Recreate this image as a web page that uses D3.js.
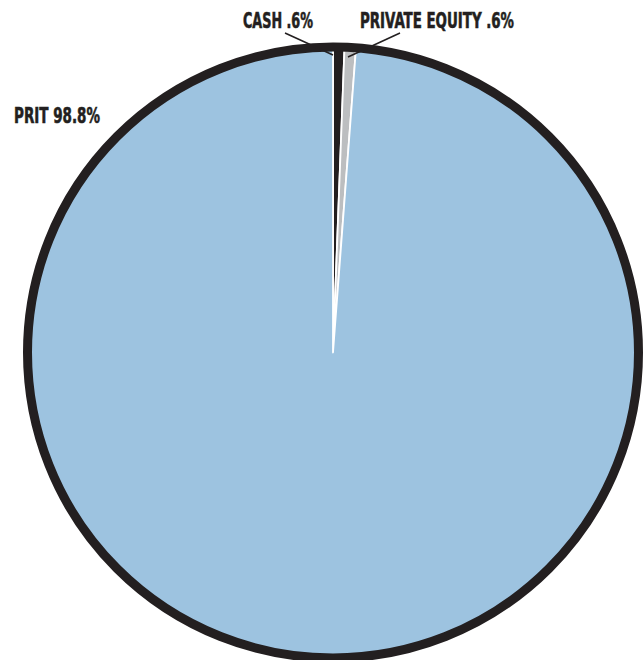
<!DOCTYPE html>
<html><head><meta charset="utf-8">
<script src="https://cdn.jsdelivr.net/npm/d3@7"></script>
<style>body{margin:0;background:#fff}svg{display:block}text{font-family:"Liberation Sans Narrow","DejaVu Sans Condensed",sans-serif;font-weight:bold;fill:#231f20;stroke:#231f20;stroke-width:0.6px}</style>
</head><body><svg id="c" width="643" height="660"></svg>
<script>
const categories = ["CASH", "PRIVATE EQUITY", "PRIT"];
const values = [0.6, 0.6, 98.8];
const labels = ["CASH .6%", "PRIVATE EQUITY .6%", "PRIT 98.8%"];
const colors = ["#231f20", "#bcbec0", "#9dc3e0"];

const svg = d3.select("#c");
const cx = 333, cy = 352.5, r = 305.5;
const g = svg.append("g").attr("transform", `translate(${cx},${cy})`);
const pie = d3.pie().sort(null).value(d => d)(values);
const arc = d3.arc().innerRadius(0).outerRadius(r);
g.selectAll("path.s").data(pie).join("path").attr("class","s")
  .attr("d", arc).attr("fill", (d,i) => colors[i])
  .attr("stroke", "#fff").attr("stroke-width", 1.8).attr("stroke-linejoin","round");
g.append("circle").attr("r", r).attr("fill","none").attr("stroke","#231f20").attr("stroke-width", 9);

// leader lines
const leaders = [
  {from:[285-cx, 33-cy], to:[333-cx, 55-cy]},
  {from:[400-cx, 33-cy], to:[348-cx, 57-cy]}
];
g.selectAll("line.l").data(leaders).join("line").attr("class","l")
  .attr("x1", d=>d.from[0]).attr("y1", d=>d.from[1])
  .attr("x2", d=>d.to[0]).attr("y2", d=>d.to[1])
  .attr("stroke","#231f20").attr("stroke-width",1.6);

const textPos = [
  {x:243, y:28, w:70},
  {x:360, y:28, w:154},
  {x:14, y:123, w:86}
];
svg.selectAll("text.t").data(labels).join("text").attr("class","t")
  .attr("x",(d,i)=>textPos[i].x).attr("y",(d,i)=>textPos[i].y)
  .attr("font-size", 21.5)
  .attr("textLength",(d,i)=>textPos[i].w).attr("lengthAdjust","spacingAndGlyphs")
  .text(d=>d);
</script></body></html>
